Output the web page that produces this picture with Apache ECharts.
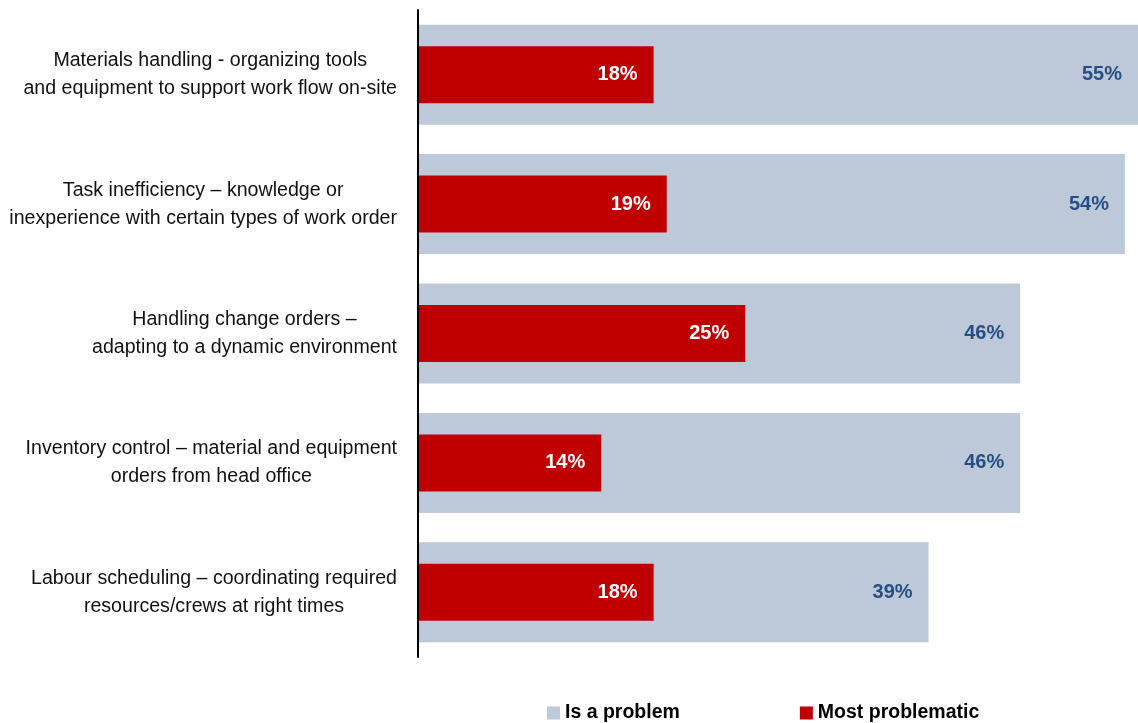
<!DOCTYPE html>
<html>
<head>
<meta charset="utf-8">
<script src="https://cdn.jsdelivr.net/npm/echarts@6/dist/echarts.min.js"></script>
<style>
  html, body { margin: 0; padding: 0; background: #fff; }
  #chart { width: 1138px; height: 723px; }
</style>
</head>
<body>
<div id="chart"></div>
<script>
// Work-flow issues on site: share reporting each as a problem / the most problematic
const categories = [
  ['Materials handling - organizing tools', 'and equipment to support work flow on-site'],
  ['Task inefficiency \u2013 knowledge or', 'inexperience with certain types of work order'],
  ['Handling change orders \u2013', 'adapting to a dynamic environment'],
  ['Inventory control \u2013 material and equipment', 'orders from head office'],
  ['Labour scheduling \u2013 coordinating required', 'resources/crews at right times']
];
const isProblem = [55, 54, 46, 46, 39];
const mostProblematic = [18, 19, 25, 14, 18];
const seriesNames = ['Is a problem', 'Most problematic'];

const catKeys = categories.map(function (c, i) { return 'c' + i; });
const labelFont = 'Arial, "Liberation Sans", Helvetica, sans-serif';
const narrowFont = '"Liberation Sans Narrow", "Arial Narrow", Arial, "Liberation Sans", sans-serif';

const chart = echarts.init(document.getElementById('chart'));
chart.setOption({
  animation: false,
  grid: { left: 418, right: 0, top: 10, bottom: 66 },
  legend: {
    top: 698,
    left: 542,
    itemWidth: 13,
    itemHeight: 13,
    itemGap: 120,
    icon: 'rect',
    textStyle: { fontFamily: labelFont, fontWeight: 'bold', fontSize: 19.5, color: '#000' },
    data: seriesNames
  },
  xAxis: {
    type: 'value',
    min: 0,
    max: 55,
    show: false
  },
  yAxis: [
    {
      type: 'category',
      inverse: true,
      data: catKeys,
      z: 5,
      axisLine: { show: true, lineStyle: { color: '#000', width: 2 } },
      axisTick: { show: false },
      axisLabel: {
        margin: 21,
        formatter: function (v) {
          const c = categories[catKeys.indexOf(v)];
          return c.map(function (l) { return '{c|' + l + '}'; }).join('\n');
        },
        rich: {
          c: { align: 'center', fontFamily: labelFont, fontSize: 19.6, lineHeight: 28, color: '#111' }
        }
      }
    },
    {
      type: 'category',
      inverse: true,
      data: catKeys,
      show: false
    }
  ],
  series: [
    {
      name: seriesNames[0],
      type: 'bar',
      yAxisIndex: 0,
      barWidth: 100,
      data: isProblem,
      itemStyle: { color: '#BDC9D9' },
      label: {
        show: true,
        position: 'insideRight',
        distance: 16,
        formatter: '{c}%',
        fontFamily: narrowFont,
        fontWeight: 'bold',
        fontSize: 20,
        color: '#274E84'
      },
      z: 1
    },
    {
      name: seriesNames[1],
      type: 'bar',
      yAxisIndex: 1,
      barWidth: 57,
      data: mostProblematic,
      itemStyle: { color: '#C00000' },
      label: {
        show: true,
        position: 'insideRight',
        distance: 16,
        formatter: '{c}%',
        fontFamily: narrowFont,
        fontWeight: 'bold',
        fontSize: 20,
        color: '#fff'
      },
      z: 2
    }
  ]
});
</script>
</body>
</html>
